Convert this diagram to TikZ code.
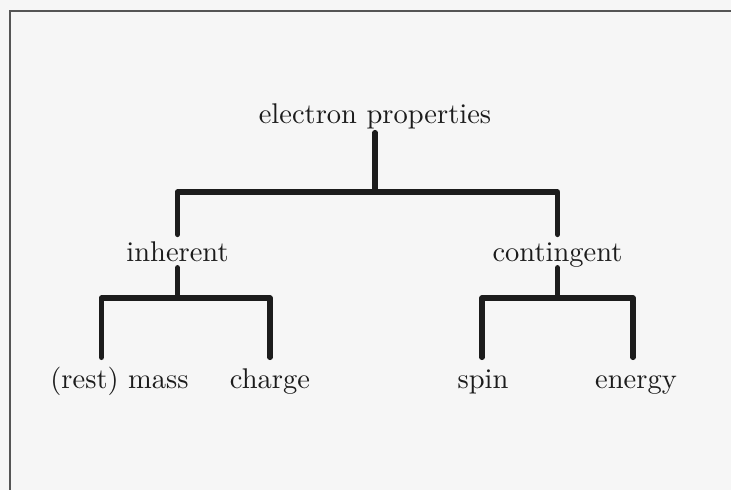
\documentclass[tikz,border=0pt]{standalone}
\usepackage{fontspec}
\setmainfont{lmroman10}[Extension=.otf, UprightFont=*-regular]
\usepackage{tikz}

\definecolor{paper}{RGB}{246,246,246}
\definecolor{ink}{RGB}{28,28,28}
\definecolor{framegrey}{RGB}{85,85,85}

\tikzset{
  label text/.style={font=\fontsize{28.5}{30}\selectfont, text=ink, anchor=base,
    text height=19.8pt, inner xsep=2pt},
  top label/.style={label text, text depth=5.5pt, inner ysep=4pt},
  mid label/.style={label text, text depth=0pt, inner ysep=6.6pt},
  leaf label/.style={label text, text depth=5.5pt, inner ysep=10.7pt},
  branch/.style={draw=ink, line width=5.5pt, line cap=round, line join=round},
  frameline/.style={draw=framegrey, line width=2pt},
}

\begin{document}
\begin{tikzpicture}[x=1pt, y=-1pt]
  % page and frame
  \fill[paper] (0,0) rectangle (731,490);
  \useasboundingbox (0,0) rectangle (731,490);
  \draw[frameline] (10,490) -- (10,11) -- (731,11);

  % labels
  \node[top label]  (root) at (375,123) {electron properties};
  \node[mid label]  (inh)  at (177.5,261) {inherent};
  \node[mid label]  (con)  at (557.5,261) {contingent};
  \node[leaf label] (mass) at (119.5,388) {(rest) mass};
  \node[leaf label] (chg)  at (270,388) {charge};
  \node[leaf label] (spin) at (483,388) {spin};
  \node[leaf label] (nrg)  at (636,388) {energy};

  % bar junctions
  \coordinate (rootbar) at (375,192);
  \coordinate (inhbar)  at (177.5,298);
  \coordinate (conbar)  at (557.5,298);

  % top level
  \draw[branch] (root.south) -- (rootbar);
  \draw[branch] (inh.north) -- (inh.north |- rootbar) -- (con.north |- rootbar) -- (con.north);

  % inherent branch
  \draw[branch] (inh.south) -- (inhbar);
  \draw[branch] (101.5,0 |- mass.north) -- (101.5,0 |- inhbar) -- (chg.north |- inhbar) -- (chg.north);

  % contingent branch
  \draw[branch] (con.south) -- (conbar);
  \draw[branch] (482,0 |- spin.north) -- (482,0 |- conbar) -- (633,0 |- conbar) -- (633,0 |- nrg.north);
\end{tikzpicture}
\end{document}
